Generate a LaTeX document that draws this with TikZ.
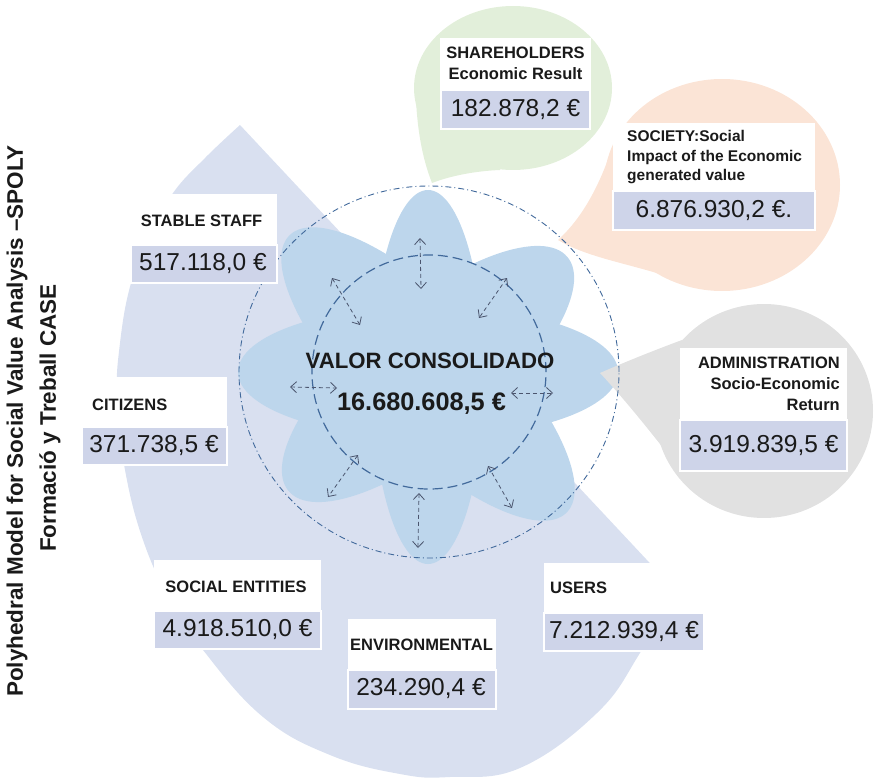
\documentclass[tikz,border=0pt]{standalone}
\usepackage{fontspec}
\setmainfont{Liberation Sans}
\usetikzlibrary{arrows.meta}

\definecolor{ink}{HTML}{1A1A1A}
\definecolor{bigfill}{HTML}{D9E0F0}
\definecolor{valfill}{HTML}{CED4E9}
\definecolor{petalfill}{HTML}{BDD6EC}
\definecolor{greenfill}{HTML}{E2EFDA}
\definecolor{peachfill}{HTML}{FBE4D6}
\definecolor{grayfill}{HTML}{E1E1E1}
\definecolor{ringc}{HTML}{41699B}
\definecolor{arrowc}{HTML}{4B556E}

\begin{document}
\begin{tikzpicture}[x=1pt,y=-1pt,
  lbl/.style={font=\fontsize{16.5}{21}\selectfont\bfseries, text=ink, inner sep=0pt},
  val/.style={font=\fontsize{24.5}{28}\selectfont, text=ink, inner sep=0pt},
  titletext/.style={font=\fontsize{22.5}{26}\selectfont\bfseries, text=ink, inner sep=0pt, rotate=90},
  labelarea/.style={fill=white},
  valarea/.style={fill=valfill, draw=white, line width=1.5pt},
  petal/.style={fill=petalfill},
  ring/.style={draw=ringc, line width=1.2pt, dash pattern=on 10pt off 5pt},
  outerring/.style={draw=ringc, line width=0.9pt, dash pattern=on 6pt off 3pt on 1pt off 3pt},
  flow/.style={draw=arrowc, line width=0.8pt, dash pattern=on 4pt off 3pt,
    {Straight Barb[length=6pt,width=11pt]}-{Straight Barb[length=6pt,width=11pt]}},
]
\useasboundingbox (0,0) rectangle (875,778);

% large teardrop background
\fill[bigfill] plot[smooth, tension=0.7] coordinates {
  (240,125) (205,158) (173,193) (150,235) (131,283) (120,343) (117,400)
  (125,470) (143,540) (170,600) (203,650) (263,717) (330,755) (400,774)
  (450,777) (520,768) (597,713) (640,653) (675,590)} -- cycle;

% speech bubbles
\fill[greenfill] (513,88) ellipse [x radius=99pt, y radius=82pt];
\fill[greenfill] (416,100) .. controls (418,140) and (425,165) .. (432,183)
  .. controls (450,176) and (475,171) .. (500,170) -- (513,88) -- cycle;

\fill[peachfill] (722,185) ellipse [x radius=118pt, y radius=106pt];
\fill[peachfill] (612,148) .. controls (598,190) and (580,220) .. (558,240)
  .. controls (585,256) and (620,262) .. (660,274) -- (722,185) -- cycle;

% central flower
\fill[petal] (428,377) ellipse [x radius=56pt, y radius=187pt];
\fill[petal] (428,372) ellipse [x radius=190pt, y radius=66pt];
\fill[petal, rotate around={-45:(428,374)}] (428,374) ellipse [x radius=196pt, y radius=68pt];
\fill[petal, rotate around={40:(428,374)}] (428,374) ellipse [x radius=182pt, y radius=68pt];

\fill[grayfill] (764,411) ellipse [x radius=109pt, y radius=107pt];
\fill[grayfill] (682,340) .. controls (655,350) and (625,362) .. (600,373)
  .. controls (630,405) and (665,450) .. (695,489) -- (764,411) -- cycle;

% circles
\draw[ring] (429,372) circle [radius=117pt];
\draw[outerring] (429,372) ellipse [x radius=190pt, y radius=186pt];

% radial exchange arrows
\coordinate (aNo) at (420,238);  \coordinate (aNi) at (421,289);
\coordinate (aNWo) at (332,278); \coordinate (aNWi) at (360,325);
\coordinate (aNEo) at (507,278); \coordinate (aNEi) at (479,318);
\coordinate (aWo) at (290,387);  \coordinate (aWi) at (337,388);
\coordinate (aEi) at (511,393);  \coordinate (aEo) at (553,393);
\coordinate (aSWi) at (358,455); \coordinate (aSWo) at (328,497);
\coordinate (aSEi) at (488,466); \coordinate (aSEo) at (512,508);
\coordinate (aSi) at (419,493);  \coordinate (aSo) at (418,548);
\draw[flow] (aNo) -- (aNi);
\draw[flow] (aNWo) -- (aNWi);
\draw[flow] (aNEo) -- (aNEi);
\draw[flow] (aWo) -- (aWi);
\draw[flow] (aEi) -- (aEo);
\draw[flow] (aSWi) -- (aSWo);
\draw[flow] (aSEi) -- (aSEo);
\draw[flow] (aSi) -- (aSo);

% centre text
\node[font=\fontsize{22.2}{26}\selectfont\bfseries, text=ink, inner sep=0pt] (vc) at (430,361) {VALOR CONSOLIDADO};
\node[font=\fontsize{25.3}{30}\selectfont\bfseries, text=ink, inner sep=0pt] (vt) at (421.5,404) {16.680.608,5 €};

% shareholders
\path[labelarea] (440,38) rectangle (591,90);
\path[valarea] (441,90) rectangle (590,129);
\node[lbl, align=center] (shl) at (515.5,63) {SHAREHOLDERS\\Economic Result};
\node[val] (shv) at (515.5,109.5) {182.878,2 €};

% society
\path[labelarea] (613,123) rectangle (815,191);
\path[valarea] (613,191) rectangle (815,230);
\node[lbl, font=\fontsize{15.5}{19.5}\selectfont\bfseries, align=left, anchor=west] (sol) at (627,157.5) {SOCIETY:Social\\Impact of the Economic\\generated value};
\node[val] (sov) at (714,210.5) {6.876.930,2 €.};

% administration
\path[labelarea] (680,348) rectangle (847,420);
\path[valarea] (680,420) rectangle (847,471);
\node[lbl, align=right, anchor=east] (adl) at (840,384) {ADMINISTRATION\\Socio-Economic\\Return};
\node[val] (adv) at (763.5,445.5) {3.919.839,5 €};

% stable staff
\path[labelarea] (131,194) rectangle (277,245);
\path[valarea] (131,245) rectangle (277,283);
\node[lbl] (stl) at (201.5,221) {STABLE STAFF};
\node[val] (stv) at (203,264) {517.118,0 €};

% citizens
\path[labelarea] (82,377) rectangle (227,427);
\path[valarea] (82,427) rectangle (227,465);
\node[lbl, anchor=west] (cil) at (92,405) {CITIZENS};
\node[val] (civ) at (154,446) {371.738,5 €};

% social entities
\path[labelarea] (154,560) rectangle (321,611);
\path[valarea] (154,611) rectangle (321,649);
\node[lbl] (sel) at (236,587) {SOCIAL ENTITIES};
\node[val] (sev) at (237.5,630) {4.918.510,0 €};

% environmental
\path[labelarea] (348,619) rectangle (496,670);
\path[valarea] (348,670) rectangle (496,709);
\node[lbl] (enl) at (421.5,645) {ENVIRONMENTAL};
\node[val] (env) at (421,689) {234.290,4 €};

% users
\path[labelarea] (544,563) rectangle (704,613);
\path[valarea] (544,613) rectangle (704,651);
\node[lbl, anchor=west] (usl) at (550,588) {USERS};
\node[val] (usv) at (624,632) {7.212.939,4 €};

% title
\node[titletext] (t1) at (17,421) {Polyhedral Model for Social Value Analysis –SPOLY};
\node[titletext] (t2) at (50,418) {Formació y Treball CASE};
\end{tikzpicture}
\end{document}
